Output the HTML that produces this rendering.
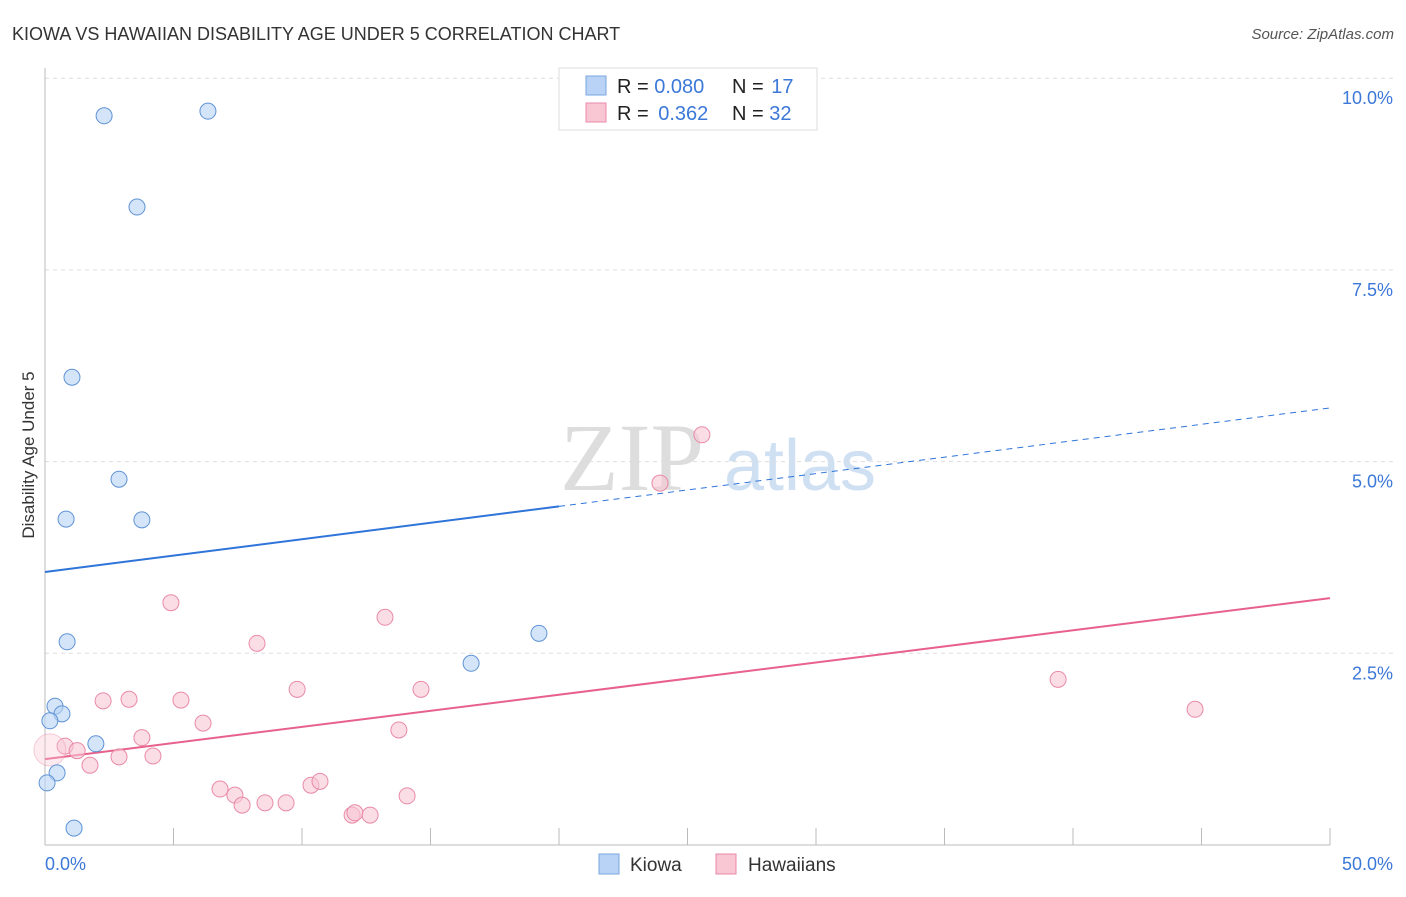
<!DOCTYPE html>
<html><head><meta charset="utf-8"><style>
body{margin:0;background:#fff;font-family:"Liberation Sans",sans-serif}
</style></head><body>
<svg id="c" width="1406" height="892" xmlns="http://www.w3.org/2000/svg" font-family="Liberation Sans, sans-serif">
<text x="12" y="40" font-size="18" fill="#333">KIOWA VS HAWAIIAN DISABILITY AGE UNDER 5 CORRELATION CHART</text>
<text x="1394" y="39" font-size="15" fill="#555" font-style="italic" text-anchor="end">Source: ZipAtlas.com</text>
<text transform="translate(34,455) rotate(-90)" font-size="17" fill="#333" text-anchor="middle">Disability Age Under 5</text>
<g>
<text x="632" y="490" font-size="96" font-family="Liberation Serif, serif" fill="#ddd" text-anchor="middle">ZIP</text>
<text x="800" y="490" font-size="72" fill="#cfe0f3" text-anchor="middle">atlas</text>
</g>
<g id="grid"></g><g id="axes"></g><g id="lines"></g><g id="pts"></g>
<g>
<rect x="559" y="68" width="258" height="62" fill="#fff" stroke="#ddd"/>
<rect x="586" y="76" width="20" height="19" fill="#b8d3f5" stroke="#7aa7e0"/>
<rect x="586" y="103" width="20" height="19" fill="#f9c6d4" stroke="#e98aa8"/>
<text x="617" y="93" font-size="20" fill="#222">R = <tspan fill="#3b78d8">0.080</tspan></text>
<text x="732" y="93" font-size="20" fill="#222">N = <tspan fill="#3b78d8" dx="2">17</tspan></text>
<text x="617" y="120" font-size="20" fill="#222">R = <tspan fill="#3b78d8" dx="4">0.362</tspan></text>
<text x="732" y="120" font-size="20" fill="#222">N = <tspan fill="#3b78d8">32</tspan></text>
</g>
<g>
<rect x="599" y="854" width="20" height="20" fill="#b8d3f5" stroke="#7aa7e0"/>
<text x="630" y="871" font-size="19" fill="#333">Kiowa</text>
<rect x="716" y="854" width="20" height="20" fill="#f9c6d4" stroke="#e98aa8"/>
<text x="748" y="871" font-size="19" fill="#333">Hawaiians</text>
</g>
</svg>
<script>
const kiowaX=[2.30,6.34,3.58,1.05,2.88,0.82,3.77,0.86,19.22,16.58,0.39,0.66,0.19,1.98,0.47,0.08,1.13];
const kiowaY=[9.51,9.57,8.32,6.10,4.77,4.25,4.24,2.65,2.76,2.37,1.81,1.71,1.62,1.32,0.94,0.81,0.22];
const hawX=[25.56,23.93,4.90,13.23,8.25,39.42,9.81,14.63,3.27,2.26,5.29,44.75,6.15,13.77,3.77,0.78,1.25,2.88,4.20,1.75,6.81,7.39,7.67,8.56,9.38,10.35,10.70,11.95,12.06,12.65,14.09,0.19];
const hawY=[5.35,4.72,3.16,2.97,2.63,2.16,2.03,2.03,1.90,1.88,1.89,1.77,1.59,1.50,1.40,1.29,1.23,1.15,1.16,1.04,0.73,0.65,0.52,0.55,0.55,0.78,0.83,0.39,0.42,0.39,0.64,1.24];
const yTicks=[2.5,5,7.5,10];
const yTickLabels=["2.5%","5.0%","7.5%","10.0%"];
const xTicks=[5,10,15,20,25,30,35,40,45,50];
const kiowaTrend=[3.56,5.70];
const hawTrend=[1.12,3.22];
const kiowaSolidEnd=20;
const NS="http://www.w3.org/2000/svg";
const sx=v=>45+v*25.7, sy=v=>845-v*76.68;
function mk(p,t,a){const e=document.createElementNS(NS,t);for(const k in a)e.setAttribute(k,a[k]);document.getElementById(p).appendChild(e);return e;}
yTicks.forEach((t,i)=>{
 const l=mk('grid','line',{x1:45,x2:1393,y1:sy(t),y2:sy(t),stroke:'#ddd','stroke-dasharray':'4,4'});
 
 
 const tx=mk('grid','text',{x:1393,y:sy(t)+26,'font-size':18,fill:'#3b78d8','text-anchor':'end'});
 tx.textContent=yTickLabels[i];
 
 
});
let a=mk('axes','line',{x1:45,x2:1330,y1:845,y2:845,stroke:'#bbb'});


a=mk('axes','line',{x1:45,x2:45,y1:68,y2:845,stroke:'#bbb'});


xTicks.forEach(t=>{const l=mk('axes','line',{x1:sx(t),x2:sx(t),y1:828,y2:845,stroke:'#bbb'});
 
 });
let t0=mk('axes','text',{x:45,y:870,'font-size':18,fill:'#3b78d8'});t0.textContent='0.0%';


let t1=mk('axes','text',{x:1393,y:870,'font-size':18,fill:'#3b78d8','text-anchor':'end'});t1.textContent='50.0%';


const kv=x=>kiowaTrend[0]+(kiowaTrend[1]-kiowaTrend[0])*x/50;
let l1=mk('lines','line',{x1:sx(0),y1:sy(kv(0)),x2:sx(kiowaSolidEnd),y2:sy(kv(kiowaSolidEnd)),stroke:'#2f74d8','stroke-width':2});


let l2=mk('lines','line',{x1:sx(kiowaSolidEnd),y1:sy(kv(kiowaSolidEnd)),x2:sx(50),y2:sy(kv(50)),stroke:'#2f74d8','stroke-width':1,'stroke-dasharray':'6,5'});


let l3=mk('lines','line',{x1:sx(0),y1:sy(hawTrend[0]),x2:sx(50),y2:sy(hawTrend[1]),stroke:'#e8608c','stroke-width':2});


hawX.forEach((x,i)=>{const big=i==hawX.length-1;const c=mk('pts','circle',{cx:sx(x),cy:sy(hawY[i]),r:big?16:8,fill:'#f9c6d4','fill-opacity':big?0.35:0.6,stroke:'#e98aa8','stroke-opacity':big?0.4:1,'stroke-width':1});
 
 });
kiowaX.forEach((x,i)=>{const c=mk('pts','circle',{cx:sx(x),cy:sy(kiowaY[i]),r:8,fill:'#b8d3f5','fill-opacity':0.6,stroke:'#5f93d6','stroke-width':1});
 
 });
</script>
</body></html>
